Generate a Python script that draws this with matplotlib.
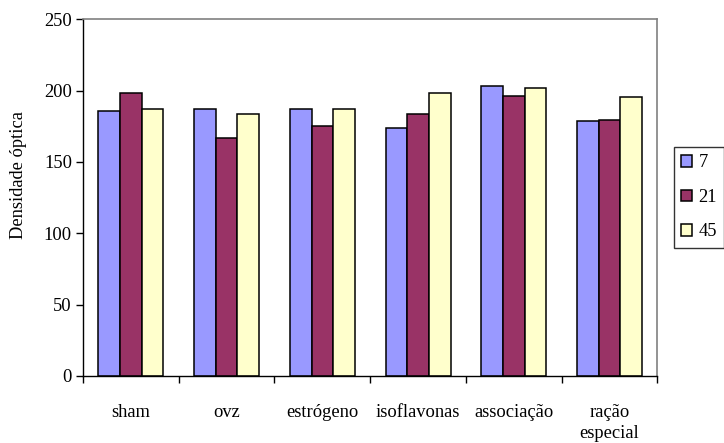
import matplotlib
matplotlib.use("Agg")
import matplotlib.pyplot as plt
import numpy as np

plt.rcParams['font.family'] = ['Liberation Serif', 'DejaVu Serif']

categories = ["sham", "ovz", "estrógeno", "isoflavonas", "associação", "ração\nespecial"]
series_names = ["7", "21", "45"]
values_7 = [185.5, 187, 187, 173.5, 203.5, 178.5]
values_21 = [198, 166.5, 175, 183.5, 196.5, 179.5]
values_45 = [187, 183.5, 187, 198, 201.5, 195.5]
colors = ["#9999FF", "#993366", "#FFFFCC"]
yticks = [0, 50, 100, 150, 200, 250]

fs = 13.3
fig = plt.figure(figsize=(7.24, 4.43), dpi=100)
ax = fig.add_axes([83/724, 1-376/443, (657.5-83)/724, (376-19.3)/443])

x = np.arange(len(categories))
w = 0.226
handles = []
for i, (vals, c, name) in enumerate(zip([values_7, values_21, values_45], colors, series_names)):
    b = ax.bar(x + (i-1)*w, vals, width=w, color=c, edgecolor="black", linewidth=1.1, label=name)
    handles.append(b)

ax.set_xlim(-0.5, len(categories)-0.5)
ax.set_ylim(0, 250)
ax.set_yticks(yticks)
ax.set_yticklabels([str(t) for t in yticks], fontsize=fs)
ax.set_xticks(np.arange(len(categories)+1) - 0.5, minor=False)
ax.set_xticklabels([])
ax.set_xticks(x, minor=True)
ax.set_xticklabels(categories, minor=True, fontsize=fs, linespacing=1.35, va='top')
ax.tick_params(axis='x', which='minor', length=0, pad=20)
ax.tick_params(axis='x', which='major', length=5, direction='out', width=1)
ax.tick_params(axis='y', length=5, direction='out', width=1, pad=3)

for s in ['top', 'right']:
    ax.spines[s].set_color('#808080')
    ax.spines[s].set_linewidth(1.2)
for s in ['left', 'bottom']:
    ax.spines[s].set_color('black')
    ax.spines[s].set_linewidth(1)

fig.text(19/724, 1-175/443, "Densidade óptica", fontsize=fs, rotation=90,
         ha='center', va='center')

leg = fig.legend(handles=handles, labels=series_names, loc='upper left',
                 bbox_to_anchor=(674/724, 1-147/443), fontsize=fs,
                 frameon=True, fancybox=False, edgecolor='black',
                 handlelength=0.6, handleheight=0.6, handletextpad=0.33,
                 labelspacing=0.95, borderpad=0.4, borderaxespad=0)
leg.get_frame().set_linewidth(1)

fig.savefig("out.png", dpi=100)
